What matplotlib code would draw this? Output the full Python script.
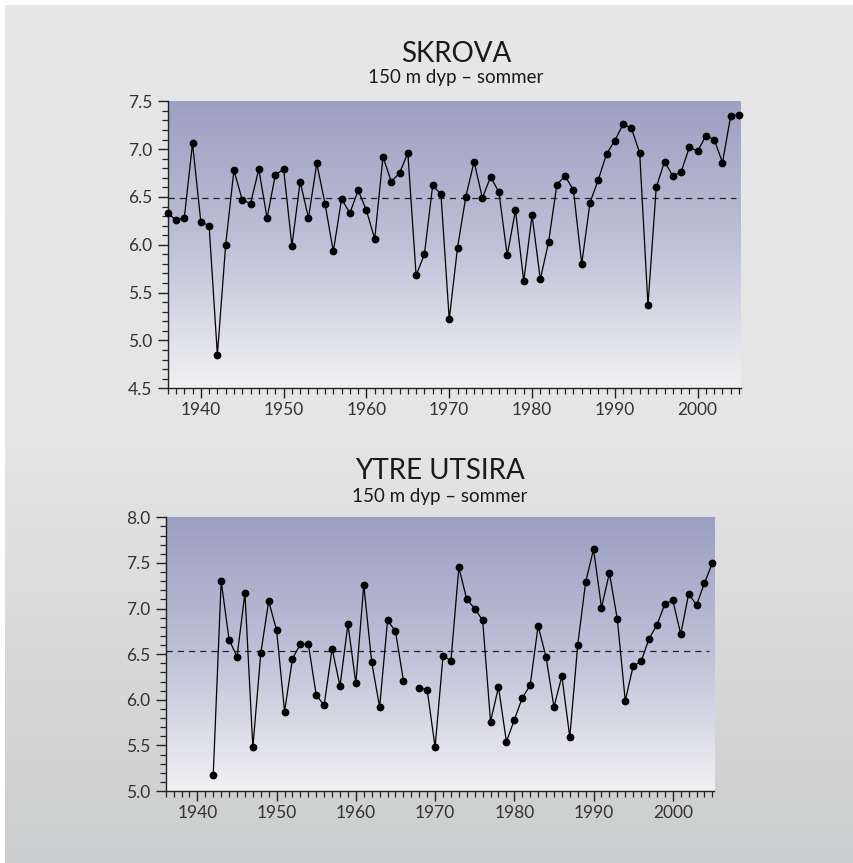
import numpy as np
import matplotlib
matplotlib.use("Agg")
import matplotlib.pyplot as plt
from matplotlib.ticker import MultipleLocator
from matplotlib.colors import LinearSegmentedColormap

plt.rcParams['font.family'] = ['Lato', 'DejaVu Sans']

# ---------------- data ----------------
skrova_years = list(range(1936, 2006))
skrova_temp = [
    6.33, 6.26, 6.28, 7.06, 6.24, 6.20, 4.85, 6.00, 6.78, 6.47,
    6.43, 6.79, 6.28, 6.73, 6.79, 5.99, 6.66, 6.28, 6.85, 6.43,
    5.93, 6.48, 6.33, 6.57, 6.36, 6.06, 6.92, 6.66, 6.75, 6.96,
    5.68, 5.90, 6.62, 6.53, 5.22, 5.97, 6.50, 6.87, 6.49, 6.71,
    6.55, 5.89, 6.36, 5.62, 6.31, 5.64, 6.03, 6.63, 6.72, 6.57,
    5.80, 6.44, 6.68, 6.95, 7.09, 7.26, 7.22, 6.96, 5.37, 6.60,
    6.87, 6.72, 6.76, 7.02, 6.98, 7.14, 7.10, 6.86, 7.35, 7.36,
]
skrova_mean = 6.485

utsira_years = list(range(1942, 2006))
utsira_temp = [
    5.18, 7.30, 6.66, 6.47, 7.17, 5.48, 6.51, 7.08, 6.76, 5.87,
    6.45, 6.61, 6.61, 6.05, 5.94, 6.56, 6.15, 6.83, 6.18, 7.26,
    6.41, 5.92, 6.87, 6.75, 6.21, np.nan, 6.13, 6.11, 5.48, 6.48,
    6.43, 7.45, 7.10, 7.00, 6.87, 5.76, 6.14, 5.54, 5.78, 6.02,
    6.16, 6.81, 6.47, 5.92, 6.26, 5.59, 6.60, 7.29, 7.65, 7.01,
    7.39, 6.88, 5.99, 6.37, 6.42, 6.67, 6.82, 7.05, 7.09, 6.72,
    7.16, 7.04, 7.28, 7.50,
]
utsira_mean = 6.535

subtitle = "150 m dyp \u2013 sommer"

# ---------------- figure ----------------
W, H = 854, 863
fig = plt.figure(figsize=(W / 100, H / 100), dpi=100)
fig.patch.set_facecolor('white')

# background panel gradient
bg = fig.add_axes([5 / W, 0, 1 - 5 / W, 1 - 5 / H], zorder=-10)
bg_cmap = LinearSegmentedColormap.from_list(
    'bg', [(0.0, '#e7e7e7'), (0.5, '#e5e5e5'), (1.0, '#cccdce')])
grad = np.linspace(0, 1, 256).reshape(-1, 1)
bg.imshow(grad, aspect='auto', cmap=bg_cmap, extent=[0, 1, 0, 1],
          origin='upper')
bg.set_axis_off()

ax_cmap = LinearSegmentedColormap.from_list(
    'ax', [(0.0, '#9c9fc1'), (0.5, '#bfc1d8'), (1.0, '#f1f1f2')])


def panel(rect, years, vals, mean, ylim, yticks, xmax_line):
    ax = fig.add_axes(rect)
    ax.set_xlim(1936, 2005.2)
    ax.set_ylim(*ylim)
    ax.imshow(grad, aspect='auto', cmap=ax_cmap,
              extent=[1936, 2005.2, ylim[0], ylim[1]], origin='upper',
              zorder=0)
    ax.plot(years, vals, color='black', lw=0.9, marker='o', ms=4.6,
            zorder=3, clip_on=False)
    ax.plot([1936, xmax_line], [mean, mean], color='#222222', lw=0.9,
            ls=(0, (5, 4)), zorder=2)
    for s in ['top', 'right']:
        ax.spines[s].set_visible(False)
    for s in ['left', 'bottom']:
        ax.spines[s].set_linewidth(1.0)
        ax.spines[s].set_color('#222222')
    ax.set_yticks(yticks)
    ax.set_yticklabels([f"{v:.1f}" for v in yticks])
    ax.yaxis.set_minor_locator(MultipleLocator(0.1))
    ax.set_xticks([1940, 1950, 1960, 1970, 1980, 1990, 2000])
    ax.xaxis.set_minor_locator(MultipleLocator(1))
    ax.tick_params(which='major', direction='out', length=7, width=1,
                   colors='#222222', labelsize=12.5, labelcolor='#333333')
    ax.tick_params(axis='y', which='major', pad=4)
    ax.tick_params(axis='x', which='major', pad=3)
    ax.tick_params(which='minor', direction='out', length=4, width=0.9,
                   colors='#222222')
    return ax


ax1 = panel([167.7 / W, 1 - 388.3 / H, (740.7 - 167.7) / W, (388.3 - 101.3) / H],
            skrova_years, skrova_temp, skrova_mean, (4.5, 7.5),
            [4.5, 5.0, 5.5, 6.0, 6.5, 7.0, 7.5], 2004.6)
ax2 = panel([165.7 / W, 1 - 791 / H, (714 - 165.7) / W, (791 - 517.3) / H],
            utsira_years, utsira_temp, utsira_mean, (5.0, 8.0),
            [5.0, 5.5, 6.0, 6.5, 7.0, 7.5, 8.0], 2004.6)

# titles
fig.text(456 / W, 1 - 54 / H, "SKROVA", ha='center', va='center',
         fontsize=20, color='#1a1a1a')
fig.text(456 / W, 1 - 77.5 / H, subtitle, ha='center', va='center',
         fontsize=13.5, color='#1a1a1a')
fig.text(440 / W, 1 - 471 / H, "YTRE UTSIRA", ha='center', va='center',
         fontsize=20, color='#1a1a1a')
fig.text(440 / W, 1 - 496.5 / H, subtitle, ha='center', va='center',
         fontsize=13.5, color='#1a1a1a')

fig.savefig("out.png", dpi=100)
